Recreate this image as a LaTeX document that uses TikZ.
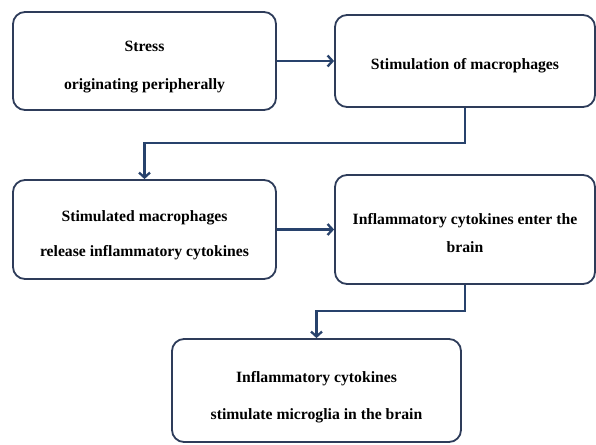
\documentclass[tikz,border=0pt]{standalone}
\usepackage{fontspec}
\setmainfont{Liberation Serif}
\usetikzlibrary{arrows.meta}
\definecolor{boxc}{RGB}{46,60,90}
\definecolor{arrc}{RGB}{40,66,108}
\begin{document}
\begin{tikzpicture}[x=1pt,y=-1pt,
  box/.style={draw=boxc,line width=1.8pt,rounded corners=12pt,rectangle,inner sep=0pt,fill=white},
  txt/.style={font=\fontsize{15.7}{18}\selectfont\bfseries,anchor=base,inner sep=0pt,text=black},
  conn/.style={draw=arrc,line width=2.5pt,-{Straight Barb[length=5pt,width=11pt,line width=2.3pt]}}]
\useasboundingbox[fill=white] (0,0) rectangle (596,444);
% boxes
\node[box,minimum width=263pt,minimum height=98pt] (b1) at (144.5,61) {};
\node[box,minimum width=260pt,minimum height=92pt] (b2) at (465,61) {};
\node[box,minimum width=263pt,minimum height=99pt] (b3) at (144.5,229.5) {};
\node[box,minimum width=260pt,minimum height=109pt] (b4) at (465,229.5) {};
\node[box,minimum width=289pt,minimum height=103pt] (b5) at (316.5,390.5) {};
% texts
\node[txt] (t1a) at (144.5,52) {Stress};
\node[txt] (t1b) at (144.5,89) {originating peripherally};
\node[txt] (t2) at (465,69) {Stimulation of macrophages};
\node[txt] (t3a) at (144.5,221) {Stimulated macrophages};
\node[txt] (t3b) at (144.5,256) {release inflammatory cytokines};
\node[txt] (t4a) at (465,224) {Inflammatory cytokines enter the};
\node[txt] (t4b) at (465,252) {brain};
\node[txt] (t5a) at (316.5,382) {Inflammatory cytokines};
\node[txt] (t5b) at (316.5,419) {stimulate microglia in the brain};
% connectors
\coordinate (k1) at (144.5,143);
\coordinate (k2) at (316.5,311);
\draw[conn] (b1.east) -- (b2.west);
\draw[conn] (b3.east) -- (b4.west);
\draw[conn] (b2.south) |- (k1) -- (b3.north);
\draw[conn] (b4.south) |- (k2) -- (b5.north);
\end{tikzpicture}
\end{document}
